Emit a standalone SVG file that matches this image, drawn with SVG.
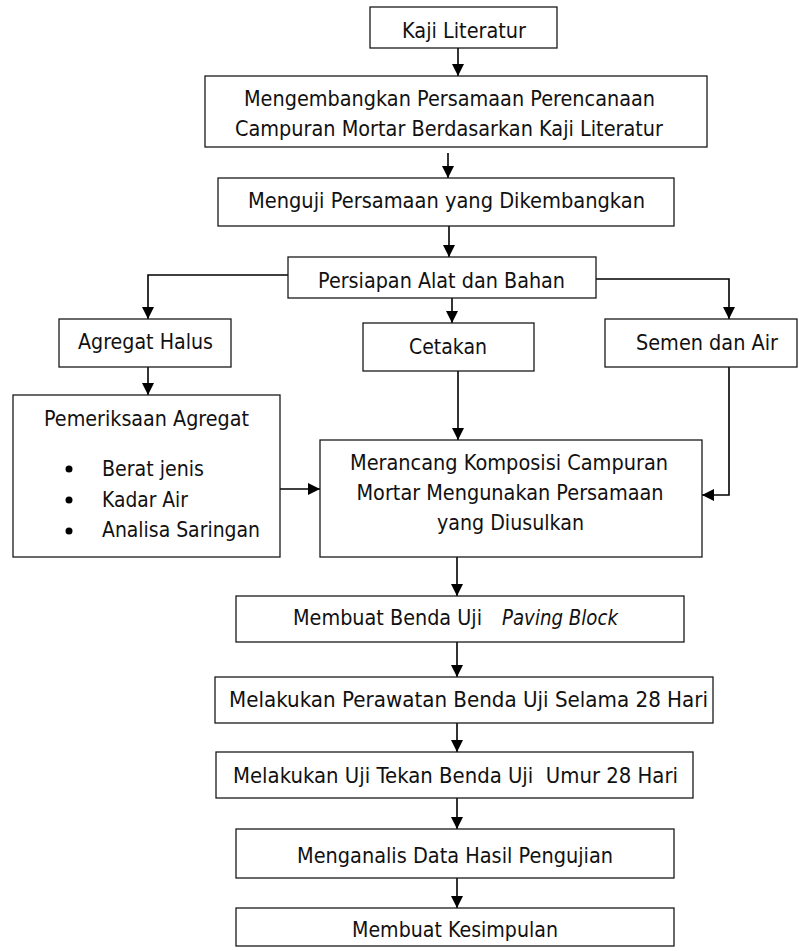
<svg xmlns="http://www.w3.org/2000/svg" width="799" height="951" viewBox="0 0 799 951">
<style>
rect{fill:#fff;stroke:#1a1a1a;stroke-width:1.3}
text{font-family:"DejaVu Sans","Liberation Sans",sans-serif;font-size:21px;fill:#111;text-anchor:middle}
.c{fill:none;stroke:#000;stroke-width:1.6;marker-end:url(#ah)}
.l{text-anchor:start}
</style>
<defs>
<marker id="ah" markerUnits="userSpaceOnUse" markerWidth="12" markerHeight="12" refX="12" refY="6" orient="auto"><path d="M0,0 L12,6 L0,12 z" fill="#000"/></marker>
</defs>
<g id="connectors">
<path class="c" d="M458,48 V76"/>
<path class="c" d="M448,153 V178"/>
<path class="c" d="M449,226 V257"/>
<path class="c" d="M288,275 H148 V319"/>
<path class="c" d="M452,297 V323"/>
<path class="c" d="M596,279 H729 V319"/>
<path class="c" d="M148,367 V395"/>
<path class="c" d="M458,371 V440"/>
<path class="c" d="M729,367 V495 H702"/>
<path class="c" d="M280,489 H320"/>
<path class="c" d="M457,557 V596"/>
<path class="c" d="M457,642 V677"/>
<path class="c" d="M457,723 V752"/>
<path class="c" d="M457,798 V829"/>
<path class="c" d="M457,878 V908"/>
</g>
<g id="n1"><rect x="370" y="7" width="187" height="41"/><text x="464" y="38" textLength="124" lengthAdjust="spacingAndGlyphs">Kaji Literatur</text></g>
<g id="n2"><rect x="205" y="76" width="502" height="71"/><text x="449.5" y="106" textLength="411" lengthAdjust="spacingAndGlyphs">Mengembangkan Persamaan Perencanaan</text><text x="449" y="136" textLength="428" lengthAdjust="spacingAndGlyphs">Campuran Mortar Berdasarkan Kaji Literatur</text></g>
<g id="n3"><rect x="218" y="178" width="456" height="48"/><text x="446.5" y="208" textLength="397" lengthAdjust="spacingAndGlyphs">Menguji Persamaan yang Dikembangkan</text></g>
<g id="n4"><rect x="288" y="257" width="308" height="41"/><text x="441.5" y="288" textLength="247" lengthAdjust="spacingAndGlyphs">Persiapan Alat dan Bahan</text></g>
<g id="n5"><rect x="59" y="319" width="172" height="48"/><text x="145.5" y="349" textLength="135" lengthAdjust="spacingAndGlyphs">Agregat Halus</text></g>
<g id="n6"><rect x="363" y="323" width="171" height="48"/><text x="448" y="354" textLength="78" lengthAdjust="spacingAndGlyphs">Cetakan</text></g>
<g id="n7"><rect x="605" y="319" width="192" height="48"/><text x="707" y="350" textLength="142" lengthAdjust="spacingAndGlyphs">Semen dan Air</text></g>
<g id="n8"><rect x="13" y="395" width="267" height="162"/><text x="146.5" y="426" textLength="205" lengthAdjust="spacingAndGlyphs">Pemeriksaan Agregat</text>
<circle cx="69" cy="469" r="3.5" fill="#000"/><text class="l" x="102" y="476" textLength="102" lengthAdjust="spacingAndGlyphs">Berat jenis</text>
<circle cx="69" cy="500" r="3.5" fill="#000"/><text class="l" x="102" y="507" textLength="86" lengthAdjust="spacingAndGlyphs">Kadar Air</text>
<circle cx="69" cy="531" r="3.5" fill="#000"/><text class="l" x="102" y="537" textLength="158" lengthAdjust="spacingAndGlyphs">Analisa Saringan</text></g>
<g id="n9"><rect x="320" y="440" width="382" height="117"/><text x="509" y="470" textLength="318" lengthAdjust="spacingAndGlyphs">Merancang Komposisi Campuran</text><text x="510" y="500" textLength="307" lengthAdjust="spacingAndGlyphs">Mortar Mengunakan Persamaan</text><text x="510.5" y="530" textLength="147" lengthAdjust="spacingAndGlyphs">yang Diusulkan</text></g>
<g id="n10"><rect x="236" y="596" width="448" height="46"/><text class="l" x="293" y="625" textLength="189" lengthAdjust="spacingAndGlyphs">Membuat Benda Uji</text><text class="l" x="502" y="625" textLength="116" lengthAdjust="spacingAndGlyphs" font-style="italic">Paving Block</text></g>
<g id="n11"><rect x="215" y="677" width="498" height="46"/><text x="468.5" y="707" textLength="479" lengthAdjust="spacingAndGlyphs">Melakukan Perawatan Benda Uji Selama 28 Hari</text></g>
<g id="n12"><rect x="216" y="752" width="477" height="46"/><text x="455.5" y="783" textLength="445" lengthAdjust="spacingAndGlyphs" xml:space="preserve">Melakukan Uji Tekan Benda Uji  Umur 28 Hari</text></g>
<g id="n13"><rect x="236" y="829" width="438" height="49"/><text x="455" y="863" textLength="316" lengthAdjust="spacingAndGlyphs">Menganalis Data Hasil Pengujian</text></g>
<g id="n14"><rect x="236" y="908" width="438" height="38"/><text x="455" y="937" textLength="206" lengthAdjust="spacingAndGlyphs">Membuat Kesimpulan</text></g>
</svg>
